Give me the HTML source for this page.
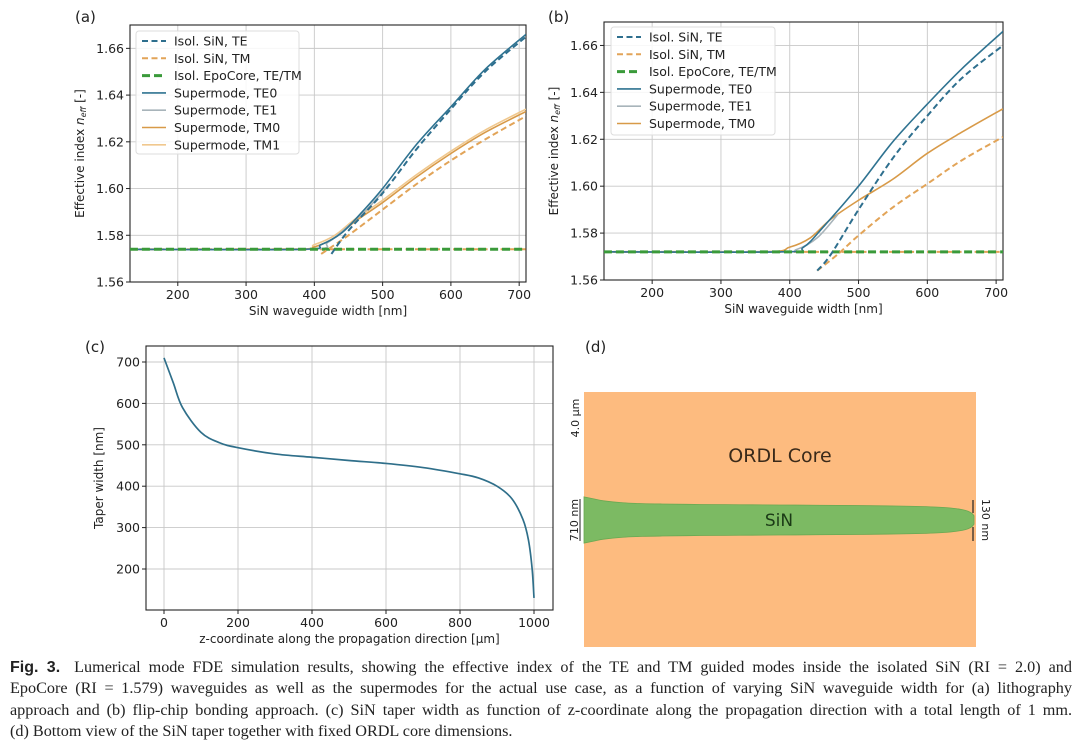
<!DOCTYPE html>
<html><head><meta charset="utf-8">
<style>
body{margin:0;background:#fff;width:1080px;height:752px;overflow:hidden;font-family:"DejaVu Sans","Liberation Sans",sans-serif}
#cap{position:absolute;left:10px;top:657px;width:1062px;font-family:"Liberation Serif",serif;font-size:16.2px;line-height:21.3px;color:#222}
#cap div{white-space:nowrap;text-align:justify;text-align-last:justify}
#cap div.last{text-align-last:left}
#cap b{font-family:"Liberation Sans",sans-serif;font-size:16px;margin-right:14px}
</style></head><body>
<svg id="fig" width="1080" height="650" style="position:absolute;left:0;top:0" font-family="DejaVu Sans, Liberation Sans, sans-serif"></svg>
<div id="cap">
<div><b>Fig. 3.</b>Lumerical mode FDE simulation results, showing the effective index of the TE and TM guided modes inside the isolated SiN (RI = 2.0) and</div>
<div>EpoCore (RI = 1.579) waveguides as well as the supermodes for the actual use case, as a function of varying SiN waveguide width for (a) lithography</div>
<div>approach and (b) flip-chip bonding approach. (c) SiN taper width as function of z-coordinate along the propagation direction with a total length of 1 mm.</div>
<div class="last">(d) Bottom view of the SiN taper together with fixed ORDL core dimensions.</div>
</div>
<script>
// ---- panel (a) data ----
const aTEisoX=[425,450,500,550,600,650,710], aTEisoY=[1.572,1.582,1.598,1.617,1.634,1.650,1.665];
const aTMisoX=[410,450,500,550,600,650,710], aTMisoY=[1.572,1.580,1.591,1.602,1.612,1.621,1.631];
const aEpoX=[130,710], aEpoY=[1.574,1.574];
const aTE0X=[130,380,410,440,470,500,550,600,650,710], aTE0Y=[1.574,1.574,1.576,1.581,1.590,1.600,1.619,1.635,1.651,1.666];
const aTE1X=[130,390,420,450,480,510], aTE1Y=[1.574,1.574,1.577,1.584,1.592,1.602];
const aTM0X=[130,370,400,430,460,500,550,600,650,710], aTM0Y=[1.574,1.574,1.575,1.579,1.586,1.594,1.605,1.615,1.624,1.633];
const aTM1X=[130,370,400,430,460,500,550,600,650,710], aTM1Y=[1.574,1.574,1.576,1.580,1.587,1.595,1.606,1.616,1.625,1.634];
// ---- panel (b) data ----
const bTEisoX=[440,460,500,550,600,650,710], bTEisoY=[1.564,1.571,1.590,1.612,1.630,1.646,1.660];
const bTMisoX=[440,470,500,550,600,650,710], bTMisoY=[1.564,1.571,1.579,1.591,1.601,1.611,1.621];
const bEpoX=[130,710], bEpoY=[1.572,1.572];
const bTE0X=[130,390,420,450,500,550,600,650,710], bTE0Y=[1.572,1.572,1.574,1.583,1.600,1.619,1.635,1.650,1.666];
const bTE1X=[130,380,410,440,470], bTE1Y=[1.572,1.572,1.573,1.578,1.588];
const bTM0X=[130,360,400,430,460,500,550,600,650,710], bTM0Y=[1.572,1.572,1.574,1.578,1.586,1.594,1.603,1.614,1.623,1.633];
// ---- panel (c) data ----
const cZ=[0,25,50,100,150,200,300,400,500,600,700,800,850,900,940,970,985,995,1000];
const cW=[710,650,590,530,505,493,478,470,462,455,445,430,420,400,370,320,270,200,130];
const xTicksAB=[200,300,400,500,600,700], yTicksAB=[1.56,1.58,1.60,1.62,1.64,1.66];
const xTicksC=[0,200,400,600,800,1000], yTicksC=[200,300,400,500,600,700];

const NS='http://www.w3.org/2000/svg', svg=document.getElementById('fig');
function el(t,a,p){const e=document.createElementNS(NS,t);for(const k in a)e.setAttribute(k,a[k]);(p||svg).appendChild(e);return e;}
function lin(d0,d1,r0,r1){return v=>r0+(v-d0)/(d1-d0)*(r1-r0);}
function smooth(pts){let d='M'+pts[0][0]+','+pts[0][1];for(let i=0;i<pts.length-1;i++){const p0=pts[Math.max(0,i-1)],p1=pts[i],p2=pts[i+1],p3=pts[Math.min(pts.length-1,i+2)];
 d+=' C'+(p1[0]+(p2[0]-p0[0])/6)+','+(p1[1]+(p2[1]-p0[1])/6)+' '+(p2[0]-(p3[0]-p1[0])/6)+','+(p2[1]-(p3[1]-p1[1])/6)+' '+p2[0]+','+p2[1];}return d;}
function axes(g,L,R,T,B,sx,sy,xt,yt,fmt,xl,yl,ylx){
 xt.forEach(v=>{el('line',{x1:sx(v),x2:sx(v),y1:T,y2:B,stroke:'#c8c8c8','stroke-width':0.9},g);const t=el('text',{x:sx(v),y:B+17,'font-size':12.5,'text-anchor':'middle',fill:'#222'},g);t.textContent=v;el('line',{x1:sx(v),x2:sx(v),y1:B,y2:B+4,stroke:'#222'},g);});
 yt.forEach(v=>{el('line',{x1:L,x2:R,y1:sy(v),y2:sy(v),stroke:'#c8c8c8','stroke-width':0.9},g);const t=el('text',{x:L-6,y:sy(v)+4.5,'font-size':12.5,'text-anchor':'end',fill:'#222'},g);t.textContent=fmt(v);el('line',{x1:L-4,x2:L,y1:sy(v),y2:sy(v),stroke:'#222'},g);});
 el('rect',{x:L,y:T,width:R-L,height:B-T,fill:'none',stroke:'#222','stroke-width':1.1},g);
 const x=el('text',{x:(L+R)/2,y:B+33,'font-size':12,'text-anchor':'middle',fill:'#222'},g);x.textContent=xl;
 const y=el('text',{x:0,y:0,'font-size':12,'text-anchor':'middle',fill:'#222',transform:`translate(${ylx},${(T+B)/2}) rotate(-90)`},g);y.innerHTML=yl;
}
function series(g,X,Y,sx,sy,st,name,clip){const p=el('path',{d:smooth(X.map((v,i)=>[sx(v),sy(Y[i])])),fill:'none',stroke:st.c,'stroke-width':st.w,'stroke-dasharray':st.d||'none','clip-path':clip},g);}
const ST={teiso:{c:'#2e6f8e',w:2,d:'6 3.5'},tmiso:{c:'#e2a458',w:2,d:'6 3.5'},epo:{c:'#3a9a3a',w:3,d:'8 4'},te0:{c:'#2f7391',w:1.6},te1:{c:'#a8b4ba',w:1.6},tm0:{c:'#d89a48',w:1.6},tm1:{c:'#f0c88e',w:1.6}};
function panelAB(id,L,R,T,B,sets,leg,label,lab){
 const g=el('g',{});
 const sx=lin(130,710,L,R),sy=lin(1.56,1.67,B,T);
 const cp=el('clipPath',{id:'clip'+id},g);el('rect',{x:L,y:T,width:R-L,height:B-T},cp);
 axes(g,L,R,T,B,sx,sy,xTicksAB,yTicksAB,v=>v.toFixed(2),'SiN waveguide width [nm]','Effective index <tspan font-style="italic">n</tspan><tspan font-style="italic" font-size="8" dy="2">eff</tspan><tspan dy="-2"> [-]</tspan>',L-46);
 sets.forEach(s=>series(g,s[0],s[1],sx,sy,ST[s[2]],s[3],`url(#clip${id})`));
 const lg=el('g',{},g);
 el('rect',{x:leg[0],y:leg[1],width:leg[2],height:leg.h,fill:'#fff','fill-opacity':0.85,stroke:'#ddd',rx:3},lg);
 label.forEach((e,i)=>{const y=leg[1]+10+i*17.3;const s=ST[e[0]];el('line',{x1:leg[0]+6,x2:leg[0]+30,y1:y,y2:y,stroke:s.c,'stroke-width':s.w,'stroke-dasharray':s.d||'none'},lg);
  const t=el('text',{x:leg[0]+38,y:y+4.5,'font-size':12.5,fill:'#222'},lg);t.textContent=e[1];});
 const pl=el('text',{x:lab[0],y:lab[1],'font-size':15,fill:'#222'},g);pl.textContent=lab[2];
}
const LA=[['teiso','Isol. SiN, TE'],['tmiso','Isol. SiN, TM'],['epo','Isol. EpoCore, TE/TM'],['te0','Supermode, TE0'],['te1','Supermode, TE1'],['tm0','Supermode, TM0'],['tm1','Supermode, TM1']];
let la=[136,31,163];la.h=123;
panelAB('panel-a',130,526,25,282,[[aEpoX,aEpoY,'tmiso','isol-tm-flat'],[aTM1X,aTM1Y,'tm1','supermode-tm1'],[aTM0X,aTM0Y,'tm0','supermode-tm0'],[aTE1X,aTE1Y,'te1','supermode-te1'],[aTE0X,aTE0Y,'te0','supermode-te0'],[aEpoX,aEpoY,'epo','isol-epocore'],[aTMisoX,aTMisoY,'tmiso','isol-sin-tm'],[aTEisoX,aTEisoY,'teiso','isol-sin-te']],la,LA,[75,22,'(a)']);
let lb=[611,27,164];lb.h=108;
panelAB('panel-b',604,1003,22,280,[[bEpoX,bEpoY,'tmiso','isol-tm-flat'],[bTM0X,bTM0Y,'tm0','supermode-tm0'],[bTE1X,bTE1Y,'te1','supermode-te1'],[bTE0X,bTE0Y,'te0','supermode-te0'],[bEpoX,bEpoY,'epo','isol-epocore'],[bTMisoX,bTMisoY,'tmiso','isol-sin-tm'],[bTEisoX,bTEisoY,'teiso','isol-sin-te']],lb,LA.slice(0,6),[548,22,'(b)']);
// panel c
(function(){const g=el('g',{});
 const L=146,R=553,T=346,B=610,sx=lin(0,1000,164,534),sy=lin(200,700,569,362);
 axes(g,L,R,T,B,sx,sy,xTicksC,yTicksC,v=>v,'z-coordinate along the propagation direction [μm]','Taper width [nm]',103);
 series(g,cZ,cW,sx,sy,{c:'#2f6f8a',w:1.7},'taper-width-line');
 const t=el('text',{x:85,y:352,'font-size':15,fill:'#222'},g);t.textContent='(c)';})();
// panel d
(function(){const g=el('g',{});
 const t=el('text',{x:585,y:352,'font-size':15,fill:'#222'},g);t.textContent='(d)';
 const r=el('rect',{x:584,y:392,width:392,height:255,fill:'#fdbb7f'},g);
 const sx=lin(0,1000,584,974),cy=520,k=0.0325;
 const top=cZ.map((z,i)=>[sx(z),cy-cW[i]*k]),bot=cZ.map((z,i)=>[sx(z),cy+cW[i]*k]).reverse();
 const p=el('path',{d:smooth(top)+' L'+bot[0][0]+','+bot[0][1]+smooth(bot).replace(/^M[^C]*/,' ')+'Z',fill:'#7cba63',stroke:'#6aa852','stroke-width':0.8},g);
 const a=el('text',{x:780,y:462,'font-size':19,'text-anchor':'middle',fill:'#3a2a1a'},g);a.textContent='ORDL Core';
 const b=el('text',{x:779,y:526,'font-size':17,'text-anchor':'middle',fill:'#1b3a16'},g);b.textContent='SiN';
 const c=el('text',{x:0,y:0,'font-size':11,'text-anchor':'middle',fill:'#222',transform:'translate(579,418) rotate(-90)'},g);c.textContent='4.0 μm';
 const d=el('text',{x:0,y:0,'font-size':11,'text-anchor':'middle',fill:'#222',transform:'translate(578,520) rotate(-90)'},g);d.textContent='710 nm';
 const e=el('text',{x:0,y:0,'font-size':11,'text-anchor':'middle',fill:'#222',transform:'translate(982,520) rotate(90)'},g);e.textContent='130 nm';
 el('line',{x1:580,x2:580,y1:499,y2:541,stroke:'#222','stroke-width':1},g);
 el('line',{x1:973,x2:973,y1:500,y2:513,stroke:'#222','stroke-width':1.2},g);
 el('line',{x1:973,x2:973,y1:527,y2:541,stroke:'#222','stroke-width':1.2},g);
})();
</script>
</body></html>
